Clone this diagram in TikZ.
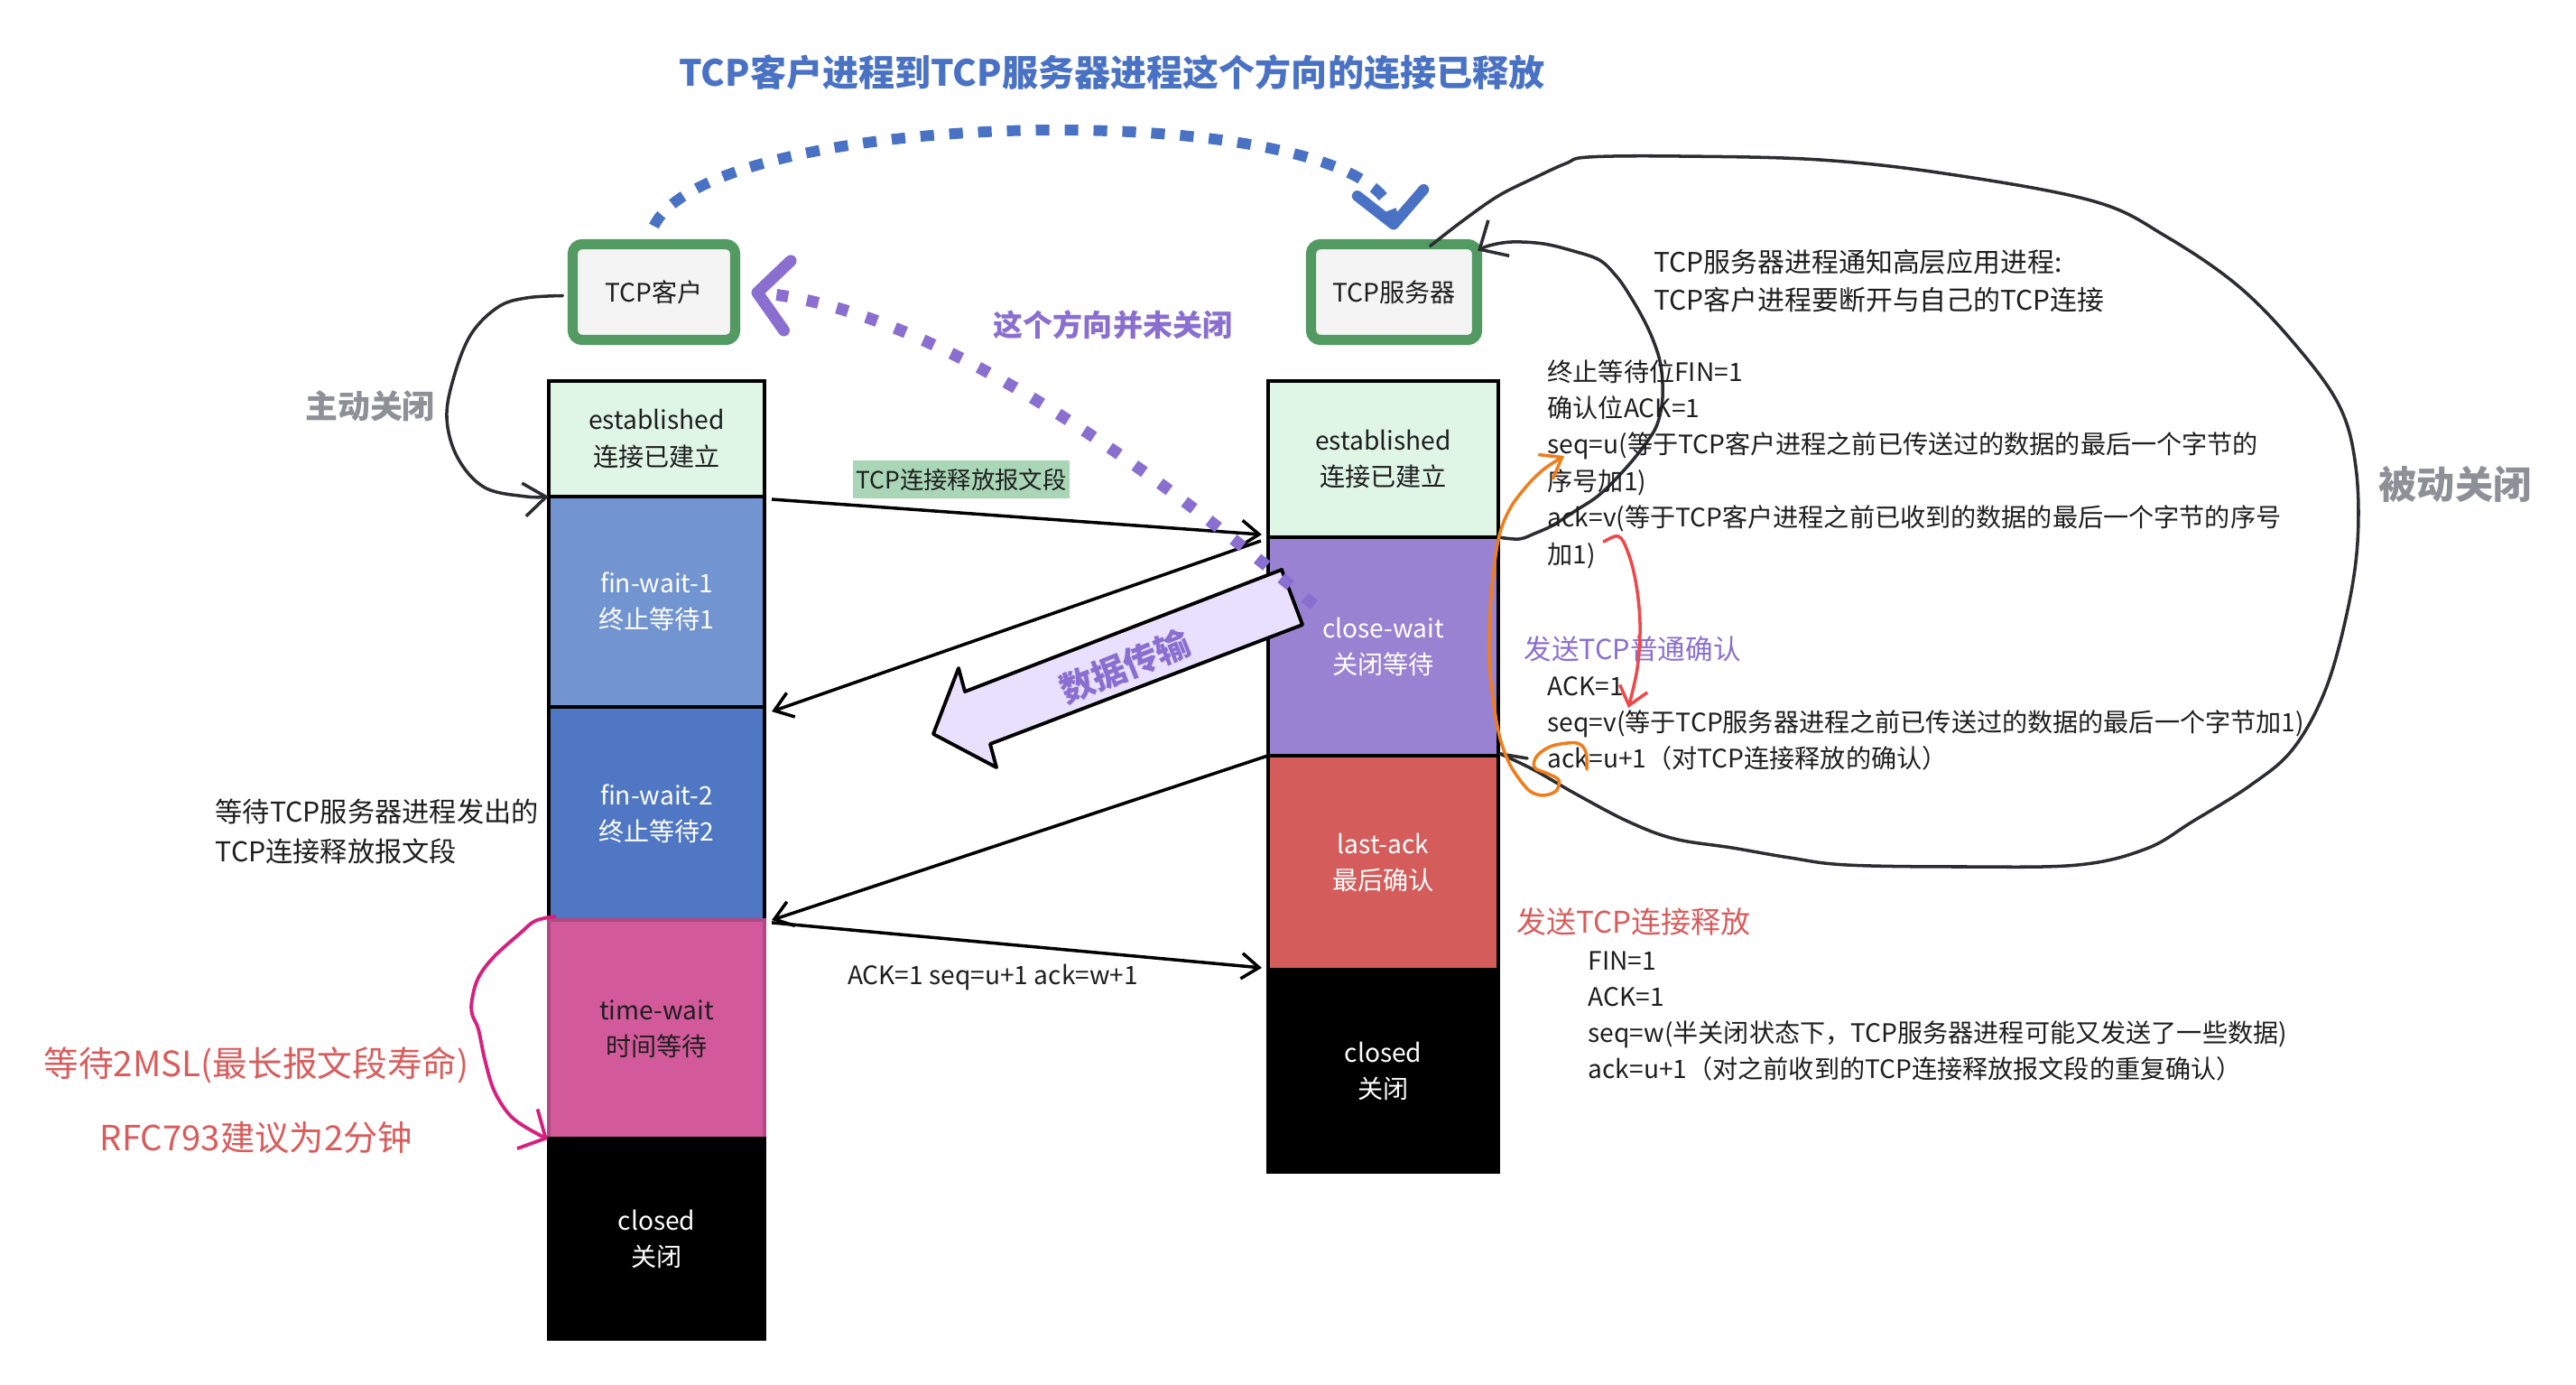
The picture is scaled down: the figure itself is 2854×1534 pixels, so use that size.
\documentclass[tikz,border=0pt]{standalone}
\usepackage{fontspec}
\setmainfont{Noto Sans CJK SC}
\usetikzlibrary{arrows.meta,calc}
\definecolor{titleblue}{HTML}{4A72C4}
\definecolor{procgreen}{HTML}{529A62}
\definecolor{procfill}{HTML}{F4F4F4}
\definecolor{estfill}{HTML}{DFF5E5}
\definecolor{fwonefill}{HTML}{7294D0}
\definecolor{fwtwofill}{HTML}{4F77C4}
\definecolor{twfill}{HTML}{D35A9A}
\definecolor{twdraw}{HTML}{B04A84}
\definecolor{cwfill}{HTML}{9A82D2}
\definecolor{lafill}{HTML}{D45C5B}
\definecolor{purp}{HTML}{8A6FD0}
\definecolor{fatfill}{HTML}{E8E0FD}
\definecolor{graytext}{HTML}{8D9197}
\definecolor{redtext}{HTML}{D95C5C}
\definecolor{magline}{HTML}{D6207F}
\definecolor{orangeline}{HTML}{F07D1A}
\definecolor{redline}{HTML}{F04848}
\definecolor{lblbg}{HTML}{A9D6B6}
\definecolor{textdark}{HTML}{1E1E1E}
\definecolor{handblack}{HTML}{2B2D30}
\begin{document}
\begin{tikzpicture}[x=0.01cm,y=-0.01cm,
  state/.style={draw=black, line width=1.1pt, inner sep=0pt, outer sep=0pt, align=center,
    text=textdark, font=\fontsize{8}{11.4}\selectfont},
  lw/.style={state, minimum width=2.39cm},
  rw/.style={state, minimum width=2.55cm},
  proc/.style={draw=procgreen, fill=procfill, line width=3.2pt, rounded corners=3pt,
    minimum height=1.06cm, inner sep=0pt, outer sep=0pt, text=textdark, font=\fontsize{8}{10}\selectfont},
  msg/.style={line width=1pt, draw=black, -{Straight Barb[length=5.5pt,width=8pt]}},
  hand/.style={line width=1pt, draw=handblack, line cap=round, line join=round},
  note/.style={anchor=west, align=left, inner sep=0pt, text=textdark, font=\fontsize{8}{11.5}\selectfont},
  plain/.style={inner sep=0pt, text=textdark, font=\fontsize{8}{10}\selectfont}
]
\fill[white] (0,0) rectangle (2854,1534);
\useasboundingbox (0,0) rectangle (2854,1534);

% title
\node[inner sep=0pt, text=titleblue, font=\bfseries\fontsize{11.4}{14}\selectfont] (title) at (1232,80)
  {TCP客户进程到TCP服务器进程这个方向的连接已释放};

% processes
\node[proc, minimum width=1.80cm] (client) at (724.5,323.5) {TCP客户};
\node[proc, minimum width=1.84cm] (server) at (1544.5,323.5) {TCP服务器};

% client column
\node[lw, fill=estfill, minimum height=1.28cm] (cest) at (727.5,486) {established\\连接已建立};
\node[lw, fill=fwonefill, text=white, minimum height=2.33cm] (cfw1) at (727.5,666.5) {fin-wait-1\\终止等待1};
\node[lw, fill=fwtwofill, text=white, minimum height=2.36cm] (cfw2) at (727.5,901) {fin-wait-2\\终止等待2};
\node[lw, fill=twfill, draw=twdraw, minimum height=2.42cm] (ctw) at (727.5,1140) {time-wait\\时间等待};
\node[lw, fill=black, text=white, minimum height=2.22cm] (ccl) at (727.5,1372) {closed\\关闭};

% server column
\node[rw, fill=estfill, minimum height=1.73cm] (sest) at (1532.5,508.5) {established\\连接已建立};
\node[rw, fill=cwfill, text=white, minimum height=2.42cm] (scw) at (1532.5,716) {close-wait\\关闭等待};
\node[rw, fill=lafill, text=white, minimum height=2.37cm] (sla) at (1532.5,955.5) {last-ack\\最后确认};
\node[rw, fill=black, text=white, minimum height=2.24cm] (scl) at (1532.5,1186) {closed\\关闭};

% messages
\draw[msg] ($(cest.south east)+(8,3)$) -- ($(sest.south west)+(-7,-3)$);
\node[plain, fill=lblbg, inner xsep=1pt, inner ysep=2.5pt, font=\fontsize{7.5}{9}\selectfont] (lbl1) at (1065,531) {TCP连接释放报文段};
\draw[msg] ($(sest.south west)+(-8,4)$) -- ($(cfw1.south east)+(8,5)$);
\draw[msg] (sla.north west) -- ($(cfw2.south east)+(8,0)$);
\draw[msg] ($(ctw.north east)+(8,3)$) -- ($(scl.north west)+(-7,-2)$);
\node[plain] (lbl2) at (1100,1083) {ACK=1 seq=u+1 ack=w+1};

% fat data arrow
\draw[line width=1.1pt, fill=fatfill, line join=round] (1420,631) -- (1069,766) -- (1062,740) -- (1034,813)
  -- (1104,850) -- (1097,824) -- (1443,692) -- cycle;
\node[inner sep=0pt, rotate=22, text=purp, font=\bfseries\fontsize{10.8}{12}\selectfont] (dt) at (1246,738) {数据传输};

% blue dotted arc
\draw[draw=titleblue, line width=3.4pt, dash pattern=on 4.3pt off 4.8pt,
  -{Straight Barb[length=10pt,width=21pt,round]}]
  ($(client.north)+(0,-20)$) .. controls (790,115) and (1530,105) .. ($(server.north)+(0,-16)$);

% purple dotted arc
\draw[draw=purp, line width=3.7pt, dash pattern=on 3.7pt off 6pt,
  -{Straight Barb[length=9.5pt,width=22pt,round]}]
  ($(sest.south west)+(51,75)$) .. controls (1300,540) and (1050,345) .. ($(client.east)+(18,0)$);
\node[inner sep=0pt, text=purp, font=\bfseries\fontsize{9.4}{11}\selectfont] (nc) at (1233,360) {这个方向并未关闭};

% left hand curve (active close)
\coordinate (a0) at ($(client.west)+(-11,4)$);
\draw[hand, -{Straight Barb[length=7pt,width=10.5pt]}] plot[smooth, tension=0.6] coordinates
  {(a0) (583,330) (552,340) (522,370) (503,417) (495,463) (507,507) (537,540) (583,550) (cest.south west)};
\node[inner sep=0pt, text=graytext, font=\bfseries\fontsize{10.2}{12}\selectfont] (zd) at (410,450) {主动关闭};

% magenta bracket
\coordinate (mg0) at ($(ctw.north west)+(7,-4)$);
\coordinate (mg1) at ($(ccl.north west)+(-1,1)$);
\draw[line width=1.1pt, draw=magline, line cap=round, -{Straight Barb[length=6.5pt,width=14pt]}] plot[smooth, tension=0.6] coordinates
  {(mg0) (593,1020) (577,1033) (547,1060) (530,1083) (523,1107) (523,1123) (530,1140) (537,1173) (547,1207) (563,1233) (580,1247) (mg1)};
\node[inner sep=0pt, text=redtext, font=\fontsize{11}{13}\selectfont] (msl) at (284,1180) {等待2MSL(最长报文段寿命)};
\node[inner sep=0pt, text=redtext, font=\fontsize{10.9}{13}\selectfont] (rfc) at (284,1260) {RFC793建议为2分钟};

% left note
\node[note, font=\fontsize{8.6}{12.5}\selectfont] (lwait) at (238,921) {等待TCP服务器进程发出的\\TCP连接释放报文段};

% server inner loop
\coordinate (il0) at (sest.south east);
\coordinate (il1) at ($(server.east)+(0.5,-46)$);
\draw[hand, -{Straight Barb[length=7pt,width=13pt]}] plot[smooth, tension=0.6] coordinates
  {(il0) (1683,597) (1700,591) (1720,582) (1745,566) (1772,548) (1800,520) (1822,493) (1836,470) (1842,440)
   (1840,405) (1832,378) (1820,352) (1803,323) (1790,305) (1772,288) (1743,278) (1710,270) (1675,268) (1650,272) (il1)};

% big loop
\coordinate (bl0) at ($(server.north east)+(-52,2)$);
\coordinate (bl1) at ($(sla.north east)+(2,-2)$);
\draw[hand] plot[smooth, tension=0.6] coordinates
  {(bl0) (1620,245) (1660,217) (1700,197) (1735,181) (1760,174) (1860,173) (2016,177) (2160,193) (2320,223)
   (2400,262) (2480,317) (2544,383) (2592,450) (2610,517) (2612,600) (2600,680) (2576,765) (2540,830)
   (2493,870) (2429,910) (2378,940) (2302,958) (2174,960) (2046,958) (1983,950) (1919,939) (1855,929)
   (1804,910) (1747,880) (1700,853) (bl1)};
\draw[hand] (bl1) -- ++(30,5);
\node[inner sep=0pt, text=graytext, font=\bfseries\fontsize{12}{14}\selectfont] (bd) at (2720,536) {被动关闭};

% right notes
\node[note, font=\fontsize{8.5}{12}\selectfont] (n1) at (1832,311)
  {TCP服务器进程通知高层应用进程:\\TCP客户进程要断开与自己的TCP连接};
\node[note] (n2) at (1714,514)
  {终止等待位FIN=1\\确认位ACK=1\\seq=u(等于TCP客户进程之前已传送过的数据的最后一个字节的\\序号加1)\\ack=v(等于TCP客户进程之前已收到的数据的最后一个字节的序号\\加1)};
\node[note, text=purp, font=\fontsize{8.7}{11}\selectfont] (n3h) at (1688,719) {发送TCP普通确认};
\node[note, font=\fontsize{8}{11.4}\selectfont] (n3) at (1714,801.5)
  {ACK=1\\seq=v(等于TCP服务器进程之前已传送过的数据的最后一个字节加1)\\ack=u+1（对TCP连接释放的确认）};
\node[note, text=redtext, font=\fontsize{9.4}{11}\selectfont] (n4h) at (1680,1021) {发送TCP连接释放};
\node[note, font=\fontsize{8}{11.4}\selectfont] (n4) at (1759,1125.5)
  {FIN=1\\ACK=1\\seq=w(半关闭状态下，TCP服务器进程可能又发送了一些数据)\\ack=u+1（对之前收到的TCP连接释放报文段的重复确认）};

% orange annotation
\coordinate (orTip) at (1733,505);
\draw[line width=1pt, draw=orangeline, line cap=round, line join=round, -{Straight Barb[length=6pt,width=9pt]}] plot[smooth, tension=0.55] coordinates
  {(1758,852) (1757,833) (1747,823) (1720,826) (1703,837) (1700,850) (1715,857) (1727,864) (1724,876) (1710,881)
   (1696,877) (1684,864) (1672,845) (1662,818) (1655,780) (1650,730) (1652,660) (1660,598) (1672,565) (1690,540)
   (1710,520) (orTip)};

% red annotation
\coordinate (rdTip) at (1804,784);
\draw[line width=1pt, draw=redline, line cap=round, -{Straight Barb[length=5.5pt,width=9pt]}] plot[smooth, tension=0.6] coordinates
  {(1777,600) (1793,594) (1803,610) (1812,643) (1817,690) (1814,740) (rdTip)};
\end{tikzpicture}
\end{document}
